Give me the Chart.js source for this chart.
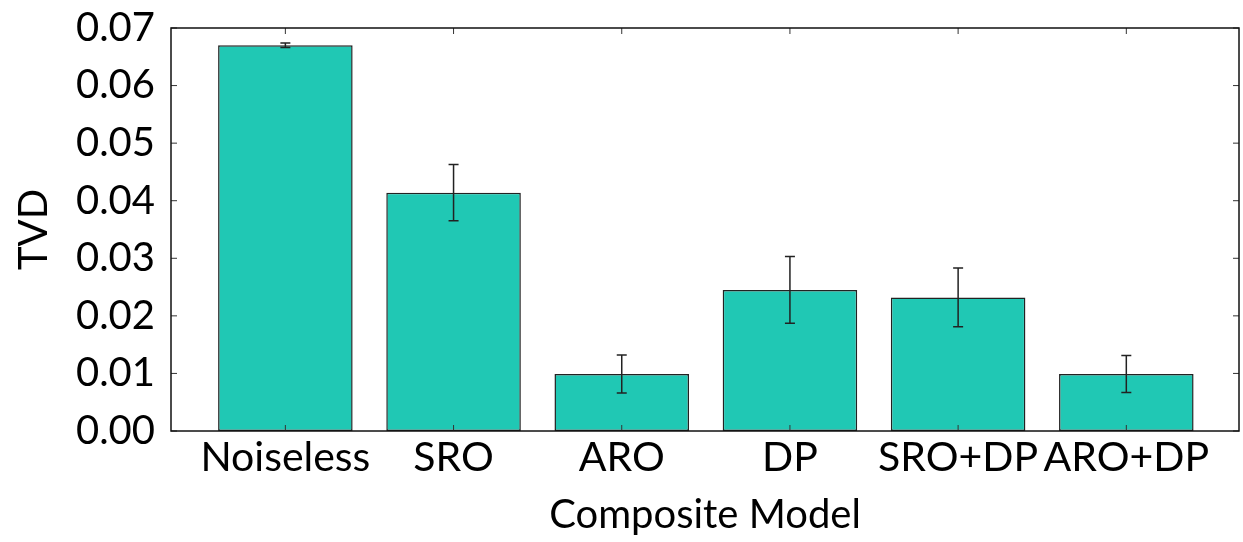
<!DOCTYPE html>
<html>
<head>
<meta charset="utf-8">
<script src="https://cdn.jsdelivr.net/npm/chart.js@4"></script>
<style>
  html, body { margin: 0; padding: 0; background: #fff; }
  #wrap { width: 1243px; height: 542px; }
</style>
</head>
<body>
<div id="wrap"><canvas id="myChart" width="1243" height="542"></canvas></div>
<script>
// data
var models = ["Noiseless", "SRO", "ARO", "DP", "SRO+DP", "ARO+DP"];
var tvd = [0.0670, 0.0414, 0.0099, 0.0245, 0.0232, 0.0099];
var tvdErr = [0.0004, 0.0049, 0.0033, 0.0058, 0.0051, 0.0032];
var yTicks = [0, 0.01, 0.02, 0.03, 0.04, 0.05, 0.06, 0.07];

var fontName = "Lato, 'Open Sans', sans-serif";

// bars sit on a linear x axis so the gnuplot-like side gaps can be kept
var points = tvd.map(function (v, i) { return { x: i, y: v }; });

// error bars + inward ticks + closed frame
var extras = {
    id: "extras",
    afterDatasetsDraw: function (chart) {
        var ctx = chart.ctx;
        var xs = chart.scales.x, ys = chart.scales.y;
        var a = chart.chartArea;
        ctx.save();
        ctx.strokeStyle = "#222";
        ctx.lineWidth = 1.5;
        for (var i = 0; i < tvd.length; i++) {
            var px = xs.getPixelForValue(i);
            var hi = ys.getPixelForValue(tvd[i] + tvdErr[i]);
            var lo = ys.getPixelForValue(tvd[i] - tvdErr[i]);
            ctx.beginPath();
            ctx.moveTo(px, hi); ctx.lineTo(px, lo);
            ctx.moveTo(px - 5, hi); ctx.lineTo(px + 5, hi);
            ctx.moveTo(px - 5, lo); ctx.lineTo(px + 5, lo);
            ctx.stroke();
        }
        ctx.lineWidth = 1;
        ctx.strokeStyle = "#333";
        ctx.beginPath();
        yTicks.forEach(function (t) {
            var py = ys.getPixelForValue(t);
            ctx.moveTo(a.left, py); ctx.lineTo(a.left + 6, py);
            ctx.moveTo(a.right, py); ctx.lineTo(a.right - 6, py);
        });
        for (var j = 0; j < models.length; j++) {
            var qx = xs.getPixelForValue(j);
            ctx.moveTo(qx, a.bottom); ctx.lineTo(qx, a.bottom - 6);
            ctx.moveTo(qx, a.top); ctx.lineTo(qx, a.top + 6);
        }
        ctx.stroke();
        ctx.lineWidth = 1.5;
        ctx.strokeStyle = "#111";
        ctx.strokeRect(a.left, a.top, a.right - a.left, a.bottom - a.top);
        ctx.restore();
    }
};

const ctx = document.getElementById("myChart").getContext("2d");
const myChart = new Chart(ctx, {
    type: "bar",
    data: {
        datasets: [{
            label: "TVD",
            data: points,
            backgroundColor: "rgb(32, 200, 180)",
            borderColor: "#222",
            borderWidth: 1.5,
            borderSkipped: false,
            barPercentage: 0.8,
            categoryPercentage: 1.0
        }]
    },
    options: {
        responsive: false,
        animation: false,
        layout: { padding: { top: 28, right: 4, left: 0, bottom: 0 } },
        plugins: {
            legend: { display: false },
            tooltip: { enabled: false }
        },
        scales: {
            x: {
                type: "linear",
                offset: false,
                min: -0.68,
                max: 5.67,
                afterBuildTicks: function (scale) {
                    scale.ticks = models.map(function (m, i) { return { value: i }; });
                },
                afterFit: function (scale) { scale.height = 111; },
                grid: { display: false, drawTicks: false, offset: false },
                border: { display: false },
                ticks: {
                    autoSkip: false,
                    maxRotation: 0,
                    padding: 2,
                    color: "#000",
                    font: { family: fontName, size: 41 },
                    callback: function (v) { return models[v]; }
                },
                title: {
                    display: true,
                    text: "Composite Model",
                    color: "#000",
                    font: { family: fontName, size: 40 },
                    padding: { top: 0, bottom: 3 }
                }
            },
            y: {
                min: 0,
                max: 0.07,
                afterBuildTicks: function (scale) {
                    scale.ticks = yTicks.map(function (t) { return { value: t }; });
                },
                afterFit: function (scale) { scale.width = 171; },
                grid: { display: false, drawTicks: false },
                border: { display: false },
                ticks: {
                    padding: 16,
                    color: "#000",
                    font: { family: fontName, size: 40, lineHeight: 0.5 },
                    callback: function (v) { return v.toFixed(2); }
                },
                title: {
                    display: true,
                    text: "TVD",
                    color: "#000",
                    font: { family: fontName, size: 40 },
                    padding: { top: 10, bottom: 0 }
                }
            }
        }
    },
    plugins: [extras]
});
</script>
</body>
</html>
